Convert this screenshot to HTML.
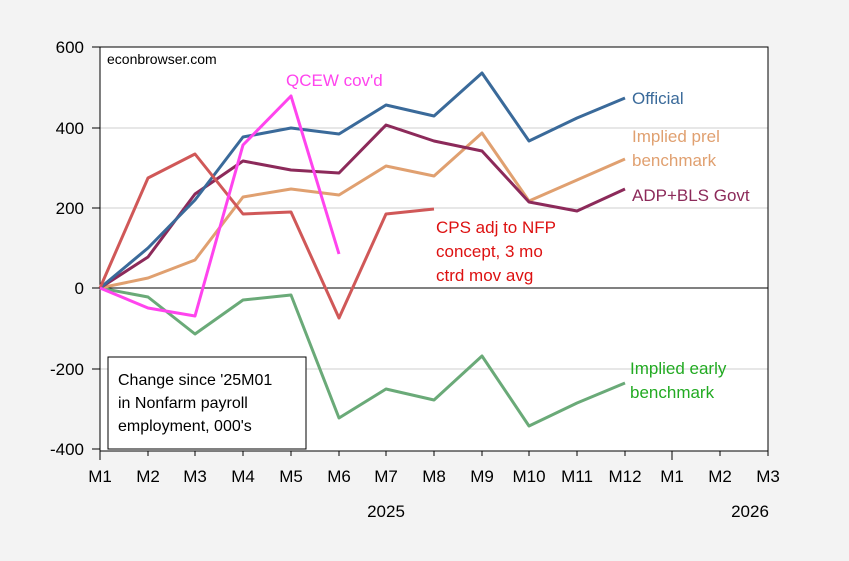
<!DOCTYPE html>
<html><head><meta charset="utf-8"><style>body{margin:0;background:#f3f3f3}svg{display:block}text{font-family:"Liberation Sans",sans-serif}</style></head><body>
<svg width="849" height="561" viewBox="0 0 849 561" xmlns="http://www.w3.org/2000/svg">
<rect width="849" height="561" fill="#f3f3f3"/>
<rect x="100" y="47" width="668" height="404" fill="#fff"/>
<g stroke="#cfcfcf" stroke-width="1">
<line x1="100" y1="128" x2="768" y2="128"/><line x1="100" y1="208" x2="768" y2="208"/><line x1="100" y1="369" x2="768" y2="369"/>
</g>
<line x1="100" y1="288" x2="768" y2="288" stroke="#000" stroke-width="1"/>
<rect x="100" y="47" width="668" height="404" fill="none" stroke="#000" stroke-width="1"/>
<g stroke="#000" stroke-width="1">
<line x1="92" y1="47" x2="100" y2="47"/><line x1="92" y1="128" x2="100" y2="128"/><line x1="92" y1="208" x2="100" y2="208"/><line x1="92" y1="288" x2="100" y2="288"/><line x1="92" y1="369" x2="100" y2="369"/><line x1="92" y1="449" x2="100" y2="449"/>
<line x1="100" y1="451" x2="100" y2="460"/><line x1="148" y1="451" x2="148" y2="456"/><line x1="195" y1="451" x2="195" y2="456"/><line x1="243" y1="451" x2="243" y2="456"/><line x1="291" y1="451" x2="291" y2="456"/><line x1="339" y1="451" x2="339" y2="456"/><line x1="386" y1="451" x2="386" y2="456"/><line x1="434" y1="451" x2="434" y2="456"/><line x1="482" y1="451" x2="482" y2="456"/><line x1="529" y1="451" x2="529" y2="456"/><line x1="577" y1="451" x2="577" y2="456"/><line x1="625" y1="451" x2="625" y2="456"/><line x1="672" y1="451" x2="672" y2="460"/><line x1="720" y1="451" x2="720" y2="456"/><line x1="768" y1="451" x2="768" y2="456"/>
</g>
<g font-size="17" text-anchor="end" fill="#000">
<text x="84" y="53">600</text><text x="84" y="134">400</text><text x="84" y="214">200</text><text x="84" y="294">0</text><text x="84" y="375">-200</text><text x="84" y="455">-400</text>
</g>
<g font-size="17" text-anchor="middle" fill="#000">
<text x="100" y="482">M1</text><text x="148" y="482">M2</text><text x="195" y="482">M3</text><text x="243" y="482">M4</text><text x="291" y="482">M5</text><text x="339" y="482">M6</text><text x="386" y="482">M7</text><text x="434" y="482">M8</text><text x="482" y="482">M9</text><text x="529" y="482">M10</text><text x="577" y="482">M11</text><text x="625" y="482">M12</text><text x="672" y="482">M1</text><text x="720" y="482">M2</text><text x="768" y="482">M3</text>
<text x="386" y="517">2025</text><text x="750" y="517">2026</text>
</g>
<text x="107" y="64" font-size="14">econbrowser.com</text>
<g fill="none" stroke-width="3" stroke-linejoin="round">
<polyline stroke="#6aaa78" points="100,288 148,297 195,334 243,300 291,295 339,418 386,389 434,400 482,356 529,426 577,403 625,383"/>
<polyline stroke="#e0a070" points="100,288 148,278 195,260 243,197 291,189 339,195 386,166 434,176 482,133 529,201 577,180 625,159"/>
<polyline stroke="#8c2a5a" points="100,288 148,257 195,194 243,161 291,170 339,173 386,125 434,141 482,151 529,202 577,211 625,189"/>
<polyline stroke="#3a6a9a" points="100,288 148,248 195,200 243,137 291,128 339,134 386,105 434,116 482,73 529,141 577,118 625,98"/>
<polyline stroke="#d05858" points="100,288 148,178 195,154 243,214 291,212 339,318 386,214 434,209"/>
<polyline stroke="#ff44ee" points="100,288 148,308 195,316 243,145 291,96 339,254"/>
</g>
<g font-size="17">
<text x="286" y="86" fill="#ff44ee">QCEW cov'd</text>
<text x="632" y="104" fill="#3a6a9a">Official</text>
<text x="632" y="142" fill="#e0a070">Implied prel</text>
<text x="632" y="166" fill="#e0a070">benchmark</text>
<text x="632" y="201" fill="#8c2a5a">ADP+BLS Govt</text>
<text x="436" y="233" fill="#dd1111">CPS adj to NFP</text>
<text x="436" y="257" fill="#dd1111">concept, 3 mo</text>
<text x="436" y="281" fill="#dd1111">ctrd mov avg</text>
<text x="630" y="374" fill="#22aa22">Implied early</text>
<text x="630" y="398" fill="#22aa22">benchmark</text>
</g>
<rect x="108" y="357" width="198" height="92" fill="#fff" stroke="#000" stroke-width="1"/>
<g font-size="16" fill="#000">
<text x="118" y="385">Change since '25M01</text>
<text x="118" y="408">in Nonfarm payroll</text>
<text x="118" y="431">employment, 000's</text>
</g>
</svg>
</body></html>
